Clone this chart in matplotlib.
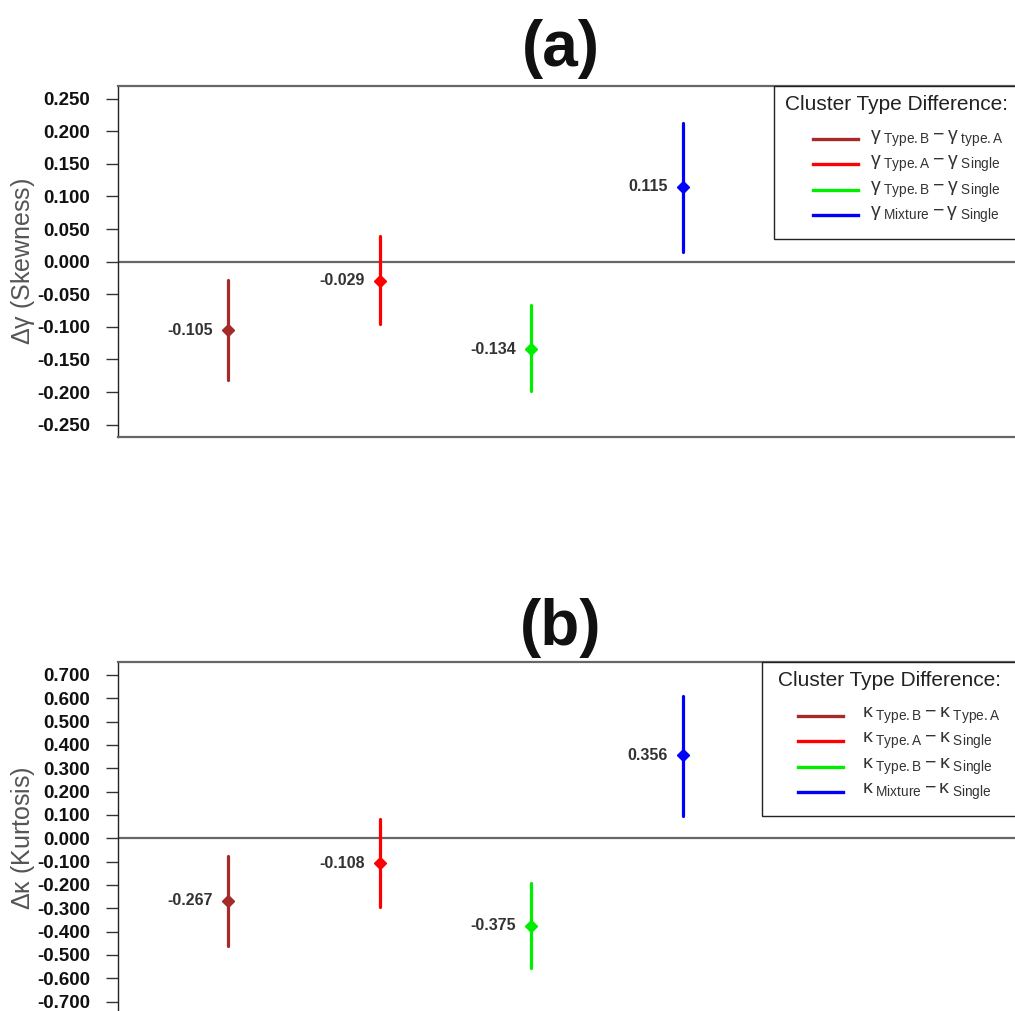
import numpy as np
import matplotlib
matplotlib.use("Agg")
import matplotlib.pyplot as plt
from matplotlib.lines import Line2D
from matplotlib.patches import Rectangle

plt.rcParams['font.family'] = ['Liberation Sans', 'DejaVu Sans']
plt.rcParams['mathtext.fontset'] = 'custom'
plt.rcParams['mathtext.rm'] = 'Liberation Sans'
plt.rcParams['mathtext.it'] = 'Liberation Sans'
plt.rcParams['mathtext.bf'] = 'Liberation Sans:bold'

# ---- data ----
positions = [1, 2, 3, 4]
colors = ['#A52A2A', '#FF0000', '#00EE00', '#0000FF']

skew_est = [-0.105, -0.029, -0.134, 0.115]
skew_lo = [-0.182, -0.096, -0.199, 0.015]
skew_hi = [-0.028, 0.040, -0.067, 0.213]
skew_labels = [r'$\gamma_{\rm\ Type.B} - \gamma_{\rm\ type.A}$',
               r'$\gamma_{\rm\ Type.A} - \gamma_{\rm\ Single}$',
               r'$\gamma_{\rm\ Type.B} - \gamma_{\rm\ Single}$',
               r'$\gamma_{\rm\ Mixture} - \gamma_{\rm\ Single}$']
skew_ticks = [-0.25, -0.20, -0.15, -0.10, -0.05, 0.0, 0.05, 0.10, 0.15, 0.20, 0.25]

kurt_est = [-0.267, -0.108, -0.375, 0.356]
kurt_lo = [-0.462, -0.294, -0.556, 0.096]
kurt_hi = [-0.076, 0.083, -0.191, 0.611]
kurt_labels = [r'$\kappa_{\rm\ Type.B} - \kappa_{\rm\ Type.A}$',
               r'$\kappa_{\rm\ Type.A} - \kappa_{\rm\ Single}$',
               r'$\kappa_{\rm\ Type.B} - \kappa_{\rm\ Single}$',
               r'$\kappa_{\rm\ Mixture} - \kappa_{\rm\ Single}$']
kurt_ticks = [-0.7, -0.6, -0.5, -0.4, -0.3, -0.2, -0.1, 0.0, 0.1, 0.2, 0.3, 0.4, 0.5, 0.6, 0.7]

legend_title = 'Cluster Type Difference:'

W, H = 1015, 1011
fig = plt.figure(figsize=(W / 100, H / 100), dpi=100)

ax_left_px, ax_right_px = 118, 1025
axw = (ax_right_px - ax_left_px) / W


def fx(px):
    return px / W


def fy(py):
    return 1 - py / H


def draw_legend(box_left, box_top, box_bottom, title_left, title_y, entry_y0, entry_dy,
                line_x0, line_x1, text_x, labels):
    rect = Rectangle((fx(box_left), fy(box_bottom)), fx(1040 - box_left),
                     (box_bottom - box_top) / H, transform=fig.transFigure,
                     facecolor='white', edgecolor='#222222', lw=1.0, zorder=5)
    fig.add_artist(rect)
    fig.text(fx(title_left), fy(title_y), legend_title, ha='left', va='center',
             fontsize=15, color='#222222', zorder=6)
    for i, (c, lab) in enumerate(zip(colors, labels)):
        y = entry_y0 + i * entry_dy
        fig.add_artist(Line2D([fx(line_x0), fx(line_x1)], [fy(y), fy(y)], color=c, lw=2.4,
                              transform=fig.transFigure, zorder=6))
        fig.text(fx(text_x), fy(y), lab, ha='left', va='center', fontsize=14,
                 color='#333333', zorder=6)


def make_panel(top_px, bottom_px, est, lo, hi, ticks, ylim, ylabel, title, title_y_px):
    ax = fig.add_axes([ax_left_px / W, 1 - bottom_px / H, axw, (bottom_px - top_px) / H])
    for x, e, l, h, c in zip(positions, est, lo, hi, colors):
        ax.plot([x, x], [l, h], color=c, lw=2.3, solid_capstyle='round', zorder=3)
        ax.plot([x], [e], marker='D', ms=6.5, color=c, zorder=4)
        ax.annotate(f'{e:.3f}', xy=(x, e), xytext=(-11, 0), textcoords='offset points',
                    ha='right', va='center', fontsize=11.5, fontweight='bold', color='#333333')
    ax.axhline(0, color='#666666', lw=1.6, zorder=1)
    ax.set_xlim(1 - 110 / 151.67, 1 + (ax_right_px - 228) / 151.67)
    ax.set_ylim(*ylim)
    ax.set_xticks([])
    ax.set_yticks(ticks)
    ax.set_yticklabels([f'{t:.3f}' for t in ticks], fontsize=13.5, fontweight='bold', color='#111111')
    ax.tick_params(axis='y', direction='out', length=9, width=1, pad=11, color='#333333')
    for s in ['top', 'bottom', 'right']:
        ax.spines[s].set_color('#666666')
        ax.spines[s].set_linewidth(1.6)
    ax.spines['left'].set_color('#222222')
    ax.spines['left'].set_linewidth(1.0)
    ax.set_ylabel(ylabel, fontsize=18, color='#555555')
    ax.yaxis.set_label_coords((37 - ax_left_px) / (ax_right_px - ax_left_px), 0.5)
    fig.text(561 / W, 1 - title_y_px / H, title, ha='center', va='center',
             fontsize=46, fontweight='bold', color='#111111')
    return ax


make_panel(86, 437, skew_est, skew_lo, skew_hi, skew_ticks, (-0.269, 0.2695),
           r'$\Delta\gamma$ (Skewness)', '(a)', 49)
draw_legend(774, 86, 239, 785, 104, 139, 25.3, 813, 858, 870, skew_labels)

make_panel(662, 1014.5, kurt_est, kurt_lo, kurt_hi, kurt_ticks, (-0.755, 0.755),
           r'$\Delta\kappa$ (Kurtosis)', '(b)', 628)
draw_legend(762, 662, 816, 778, 681, 716, 25.3, 798, 843, 862, kurt_labels)

fig.savefig('out.png', dpi=100)
